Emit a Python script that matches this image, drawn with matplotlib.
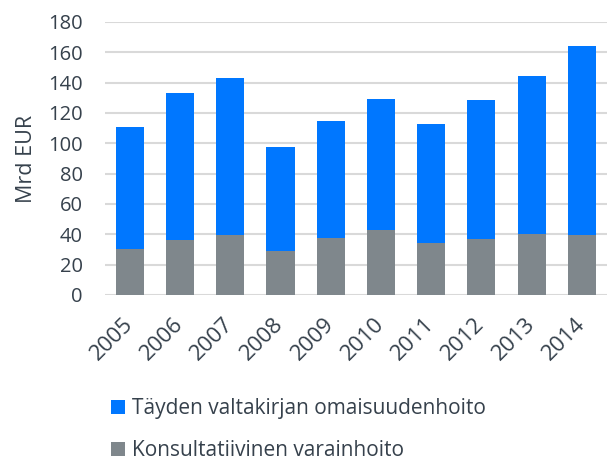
import numpy as np
import matplotlib.pyplot as plt

years = ['2005', '2006', '2007', '2008', '2009', '2010', '2011', '2012', '2013', '2014']
konsultatiivinen = [30.6, 36.1, 39.4, 28.8, 37.6, 42.7, 34.1, 37.2, 40.5, 39.6]
yhteensa = [110.6, 133.4, 143.1, 97.4, 114.5, 129.0, 112.5, 128.2, 144.6, 163.8]
taysi = [t - k for t, k in zip(yhteensa, konsultatiivinen)]

blue = '#0077ff'
gray = '#7f878c'
text_color = '#36414c'

plt.rcParams['font.family'] = ['Open Sans', 'DejaVu Sans']

fig = plt.figure(figsize=(6.13, 4.66), dpi=100)
ax = fig.add_axes([0.171, 0.367, 0.819, 0.586])

x = np.arange(len(years))
w = 0.56
b1 = ax.bar(x, konsultatiivinen, w, color=gray, zorder=3,
            label='Konsultatiivinen varainhoito')
b2 = ax.bar(x, taysi, w, bottom=konsultatiivinen, color=blue, zorder=3,
            label='Täyden valtakirjan omaisuudenhoito')

ax.set_ylim(0, 180)
ax.set_xlim(-0.5, len(years) - 0.5)
ax.set_yticks(range(0, 181, 20))
ax.yaxis.grid(True, color='#d9d9d9', linewidth=1.5, zorder=0)
for s in ax.spines.values():
    s.set_visible(False)
ax.tick_params(length=0, colors=text_color)
ax.tick_params(axis='y', pad=16, labelsize=14.5)
ax.tick_params(axis='x', pad=19, labelsize=16)
ax.set_xticks(x)
ax.set_xticklabels(years, rotation=45, ha='right', va='center', rotation_mode='anchor')
ax.set_ylabel('Mrd EUR', fontsize=15.5, color=text_color, labelpad=8)

fig.legend([b2, b1], [b2.get_label(), b1.get_label()],
           loc='upper left', bbox_to_anchor=(0.181, 0.145), frameon=False,
           fontsize=15, handlelength=0.67, handleheight=0.67, handletextpad=0.34,
           labelspacing=1.0, labelcolor=text_color, borderaxespad=0, borderpad=0)

fig.savefig('out.png', dpi=100)
